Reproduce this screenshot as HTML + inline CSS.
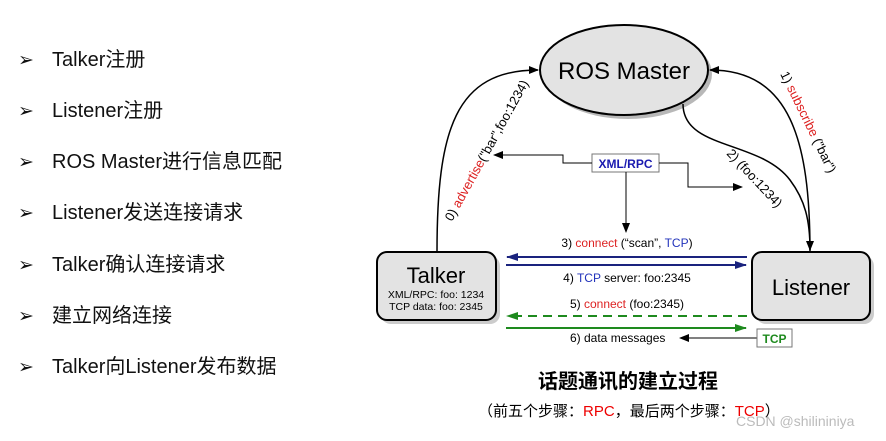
<!DOCTYPE html>
<html><head><meta charset="utf-8"><style>
body{margin:0;width:886px;height:441px;background:#fff;overflow:hidden;position:relative;font-family:"Liberation Sans","Noto Sans CJK SC",sans-serif}
.li{position:absolute;left:18px;font-size:20px;color:#111;height:24px;line-height:24px}
.li span{display:inline-block;width:34px;font-size:19px}
</style></head><body>
<div class="li" style="top:48px"><span>➢</span>Talker注册</div>
<div class="li" style="top:99px"><span>➢</span>Listener注册</div>
<div class="li" style="top:150px"><span>➢</span>ROS Master进行信息匹配</div>
<div class="li" style="top:201px"><span>➢</span>Listener发送连接请求</div>
<div class="li" style="top:253px"><span>➢</span>Talker确认连接请求</div>
<div class="li" style="top:304px"><span>➢</span>建立网络连接</div>
<div class="li" style="top:355px"><span>➢</span>Talker向Listener发布数据</div>
<svg width="886" height="441" style="position:absolute;left:0;top:0" font-family="Liberation Sans, sans-serif">
<defs>
<marker id="a" markerWidth="10" markerHeight="8" refX="9" refY="4" orient="auto" markerUnits="userSpaceOnUse"><path d="M0,0L10,4L0,8z" fill="#000"/></marker>
<marker id="b" markerWidth="12" markerHeight="8" refX="11" refY="4" orient="auto" markerUnits="userSpaceOnUse"><path d="M0,0L12,4L0,8z" fill="#1a237e"/></marker>
<marker id="g" markerWidth="12" markerHeight="8" refX="11" refY="4" orient="auto" markerUnits="userSpaceOnUse"><path d="M0,0L12,4L0,8z" fill="#1e8a1e"/></marker>
</defs>
<ellipse cx="628" cy="74" rx="84" ry="45" fill="#888" opacity=".6"/>
<ellipse cx="624" cy="70" rx="84" ry="45" fill="#e3e3e3" stroke="#000" stroke-width="2"/>
<text x="624" y="79" font-size="24" text-anchor="middle">ROS Master</text>
<path d="M437,252 C437,130 455,70 538,70" fill="none" stroke="#000" stroke-width="1.5" marker-end="url(#a)"/>
<path d="M810,252 C810,140 790,70 710,70" fill="none" stroke="#000" stroke-width="1.5" marker-end="url(#a)"/>
<path d="M683,104 C683,150 760,140 790,180 C805,200 810,220 810,250" fill="none" stroke="#000" stroke-width="1.5" marker-end="url(#a)"/>
<text transform="translate(452,222) rotate(-61)" font-size="13"><tspan>0) </tspan><tspan fill="#d22">advertise</tspan><tspan>("bar",foo:1234)</tspan></text>
<text transform="translate(780,74) rotate(64)" font-size="13"><tspan>1) </tspan><tspan fill="#d22">subscribe</tspan><tspan> ("bar")</tspan></text>
<text transform="translate(726,154) rotate(47)" font-size="13">2) (foo:1234)</text>
<rect x="592" y="154" width="67" height="18" fill="#fff" stroke="#777"/>
<text x="625.5" y="168" font-size="12" font-weight="bold" fill="#1a1ab0" text-anchor="middle">XML/RPC</text>
<path d="M592,163H563V155H494" fill="none" stroke="#000" marker-end="url(#a)"/>
<path d="M659,163H688V187H742" fill="none" stroke="#000" marker-end="url(#a)"/>
<path d="M626,172V232" fill="none" stroke="#000" marker-end="url(#a)"/>
<rect x="381" y="256" width="119" height="68" rx="10" fill="#999" opacity=".5"/>
<rect x="377" y="252" width="119" height="68" rx="10" fill="#e3e3e3" stroke="#000" stroke-width="2"/>
<text x="436" y="283" font-size="22" text-anchor="middle">Talker</text>
<text x="436" y="298" font-size="10.5" text-anchor="middle">XML/RPC: foo: 1234</text>
<text x="436" y="310" font-size="10.5" text-anchor="middle">TCP data: foo: 2345</text>
<rect x="756" y="256" width="118" height="68" rx="10" fill="#999" opacity=".5"/>
<rect x="752" y="252" width="118" height="68" rx="10" fill="#e3e3e3" stroke="#000" stroke-width="2"/>
<text x="811" y="295" font-size="22" text-anchor="middle">Listener</text>
<text x="627" y="247" font-size="12" text-anchor="middle"><tspan>3) </tspan><tspan fill="#d22">connect</tspan><tspan> (“scan”, </tspan><tspan fill="#2233bb">TCP</tspan><tspan>)</tspan></text>
<line x1="747" y1="257" x2="507" y2="257" stroke="#1a237e" stroke-width="2" marker-end="url(#b)"/>
<line x1="506" y1="265" x2="746" y2="265" stroke="#1a237e" stroke-width="2" marker-end="url(#b)"/>
<text x="627" y="282" font-size="12" text-anchor="middle"><tspan>4) </tspan><tspan fill="#2233bb">TCP</tspan><tspan> server: foo:2345</tspan></text>
<text x="627" y="308" font-size="12" text-anchor="middle"><tspan>5) </tspan><tspan fill="#d22">connect</tspan><tspan> (foo:2345)</tspan></text>
<line x1="747" y1="316" x2="507" y2="316" stroke="#1e8a1e" stroke-width="2" stroke-dasharray="9,6" marker-end="url(#g)"/>
<line x1="506" y1="328" x2="746" y2="328" stroke="#1e8a1e" stroke-width="2" marker-end="url(#g)"/>
<text x="570" y="342" font-size="12">6) data messages</text>
<line x1="757" y1="338" x2="680" y2="338" stroke="#000" marker-end="url(#a)"/>
<rect x="757" y="329" width="35" height="18" fill="#fff" stroke="#777"/>
<text x="774.5" y="343" font-size="12" font-weight="bold" fill="#1e8a1e" text-anchor="middle">TCP</text>
</svg>
<div style="position:absolute;left:528px;top:365px;width:200px;text-align:center;font-size:20px;font-weight:bold;font-family:'Liberation Sans','Noto Sans CJK SC',sans-serif">话题通讯的建立过程</div>
<div style="position:absolute;left:478px;top:400px;font-size:15px;font-family:'Liberation Sans','Noto Sans CJK SC',sans-serif">（前五个步骤：<span style="color:#e00">RPC</span>，最后两个步骤：<span style="color:#e00">TCP</span>）</div>
<div style="position:absolute;left:736px;top:413px;font-size:14px;color:#bbb">CSDN @shilininiya</div>
</body></html>
